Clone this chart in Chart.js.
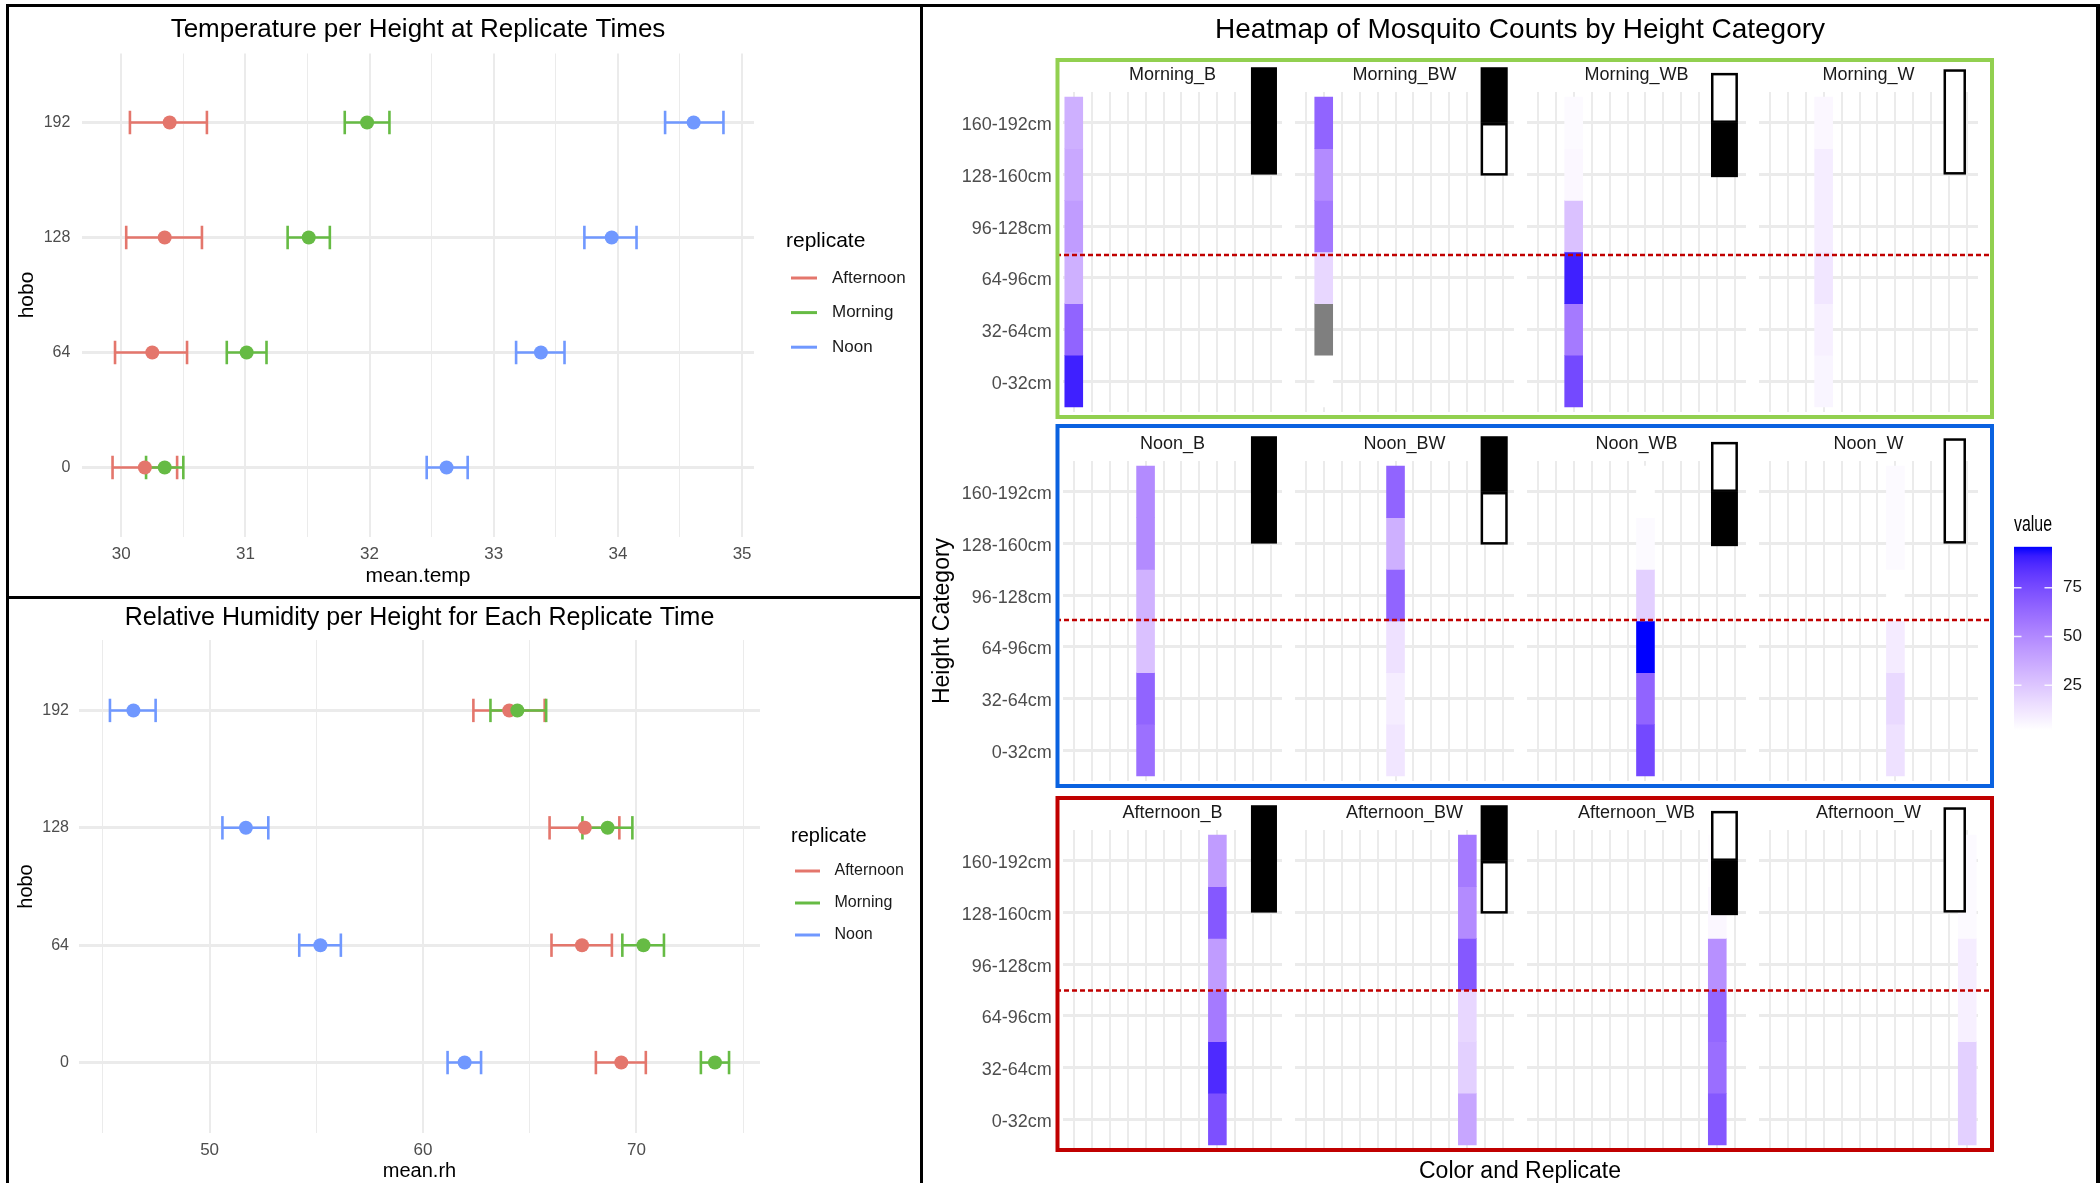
<!DOCTYPE html>
<html>
<head>
<meta charset="utf-8">
<title>Mosquito counts, temperature and humidity by height</title>
<script src="https://cdn.jsdelivr.net/npm/chart.js@4.4.1/dist/chart.umd.min.js"></script>
<style>
  html, body { margin: 0; padding: 0; background: #fff; }
  #page { position: relative; width: 2100px; height: 1183px; overflow: hidden; background: #fff; }
  #page canvas { position: absolute; }
  .rule { position: absolute; background: #000; z-index: 10; }
</style>
</head>
<body>
<div id="page">
  <div class="rule" style="left:6px;top:4px;width:2094px;height:3px"></div>
  <div class="rule" style="left:6px;top:4px;width:3px;height:1179px"></div>
  <div class="rule" style="left:920px;top:4px;width:3px;height:1179px"></div>
  <div class="rule" style="left:6px;top:596px;width:916px;height:3px"></div>
  <div class="rule" style="left:2096px;top:4px;width:4px;height:1179px"></div>
</div>
<script>
// ---------- data ----------
const hoboLevels = ['0', '64', '128', '192'];
const replicates = ['Afternoon', 'Morning', 'Noon'];
const replicateColors = ['#E4766C', '#66BB44', '#7098FF'];

// mean temperature with error bar ends, per hobo height (0, 64, 128, 192)
const tempMeanAfternoon = [30.19, 30.25, 30.35, 30.39];
const tempLowAfternoon = [29.93, 29.95, 30.04, 30.07];
const tempHighAfternoon = [30.45, 30.53, 30.65, 30.69];
const tempMeanMorning = [30.35, 31.01, 31.51, 31.98];
const tempLowMorning = [30.20, 30.85, 31.34, 31.80];
const tempHighMorning = [30.50, 31.17, 31.68, 32.16];
const tempMeanNoon = [32.62, 33.38, 33.95, 34.61];
const tempLowNoon = [32.46, 33.18, 33.73, 34.38];
const tempHighNoon = [32.79, 33.57, 34.15, 34.85];

// mean relative humidity with error bar ends
const rhMeanAfternoon = [69.29, 67.45, 67.58, 64.04];
const rhLowAfternoon = [68.10, 66.02, 65.93, 62.36];
const rhHighAfternoon = [70.44, 68.85, 69.20, 65.70];
const rhMeanMorning = [73.68, 70.33, 68.65, 64.42];
const rhLowMorning = [73.02, 69.34, 67.47, 63.16];
const rhHighMorning = [74.34, 71.29, 69.81, 65.77];
const rhMeanNoon = [61.95, 55.19, 51.70, 46.43];
const rhLowNoon = [61.15, 54.20, 50.60, 45.33];
const rhHighNoon = [62.72, 56.15, 52.75, 47.47];

// heatmap
const heightCats = ['0-32cm', '32-64cm', '64-96cm', '96-128cm', '128-160cm', '160-192cm'];
const colorReplicates = ['Morning_B', 'Morning_BW', 'Morning_WB', 'Morning_W',
  'Noon_B', 'Noon_BW', 'Noon_WB', 'Noon_W',
  'Afternoon_B', 'Afternoon_BW', 'Afternoon_WB', 'Afternoon_W'];
const trapTypes = ['B', 'BW', 'WB', 'W'];
// counts per height category, 0-32cm first; null = missing
const morningCounts = [
  [90, 65, 34, 42, 37, 34],
  [2, null, 18, 57, 49, 65],
  [76, 56, 90, 27, 5, 4],
  [6, 8, 12, 9, 9, 5]
];
const noonCounts = [
  [60, 65, 27, 33, 49, 49],
  [12, 9, 14, 65, 34, 65],
  [76, 65, 96, 21, 4, 2],
  [14, 17, 10, 2, 4, 4]
];
const afternoonCounts = [
  [73, 87, 56, 42, 70, 42],
  [38, 21, 18, 70, 49, 56],
  [70, 61, 64, 47, 5, 3],
  [21, 21, 8, 9, 4, 4]
];
const valueTicks = [25, 50, 75];

// ---------- setup ----------
const FONT = '"Liberation Sans", Arial, Helvetica, sans-serif';
Chart.defaults.font.family = FONT;
Chart.defaults.animation = false;
Chart.defaults.events = [];
Chart.defaults.responsive = false;
Chart.defaults.maintainAspectRatio = false;
Chart.defaults.plugins.legend.display = false;
Chart.defaults.plugins.tooltip.enabled = false;

const page = document.getElementById('page');
function addCanvas(left, top, width, height, z) {
    const c = document.createElement('canvas');
    c.width = width;
    c.height = height;
    c.style.left = left + 'px';
    c.style.top = top + 'px';
    c.style.width = width + 'px';
    c.style.height = height + 'px';
    c.style.zIndex = z;
    page.appendChild(c);
    return c;
}

// scale callback: fixed size, no extra label padding
function fixSize(prop, size) {
    return s => {
        s[prop] = size;
        s.paddingTop = 0;
        s.paddingBottom = 0;
        s.paddingLeft = 0;
        s.paddingRight = 0;
    };
}

// white -> blue gradient in Lab space (like ggplot's scale_fill_gradient)
const WHITE_REF = [0.95047, 1, 1.08883];
function toLinear(c) {
    c /= 255;
    return c <= 0.04045 ? c / 12.92 : Math.pow((c + 0.055) / 1.055, 2.4);
}
function fromLinear(c) {
    c = c <= 0.0031308 ? 12.92 * c : 1.055 * Math.pow(c, 1 / 2.4) - 0.055;
    return Math.round(255 * Math.min(1, Math.max(0, c)));
}
function rgbToLab(rgb) {
    const [r, g, b] = rgb.map(toLinear);
    const xyz = [
        0.4124 * r + 0.3576 * g + 0.1805 * b,
        0.2126 * r + 0.7152 * g + 0.0722 * b,
        0.0193 * r + 0.1192 * g + 0.9505 * b
    ].map((v, i) => v / WHITE_REF[i]);
    const f = xyz.map(v => (v > 0.008856 ? Math.cbrt(v) : 7.787 * v + 16 / 116));
    return [116 * f[1] - 16, 500 * (f[0] - f[1]), 200 * (f[1] - f[2])];
}
function labToRgb(lab) {
    const fy = (lab[0] + 16) / 116;
    const fx = fy + lab[1] / 500;
    const fz = fy - lab[2] / 200;
    const [x, y, z] = [fx, fy, fz].map((f, i) => (f ** 3 > 0.008856 ? f ** 3 : (f - 16 / 116) / 7.787) * WHITE_REF[i]);
    return [
        3.2406 * x - 1.5372 * y - 0.4986 * z,
        -0.9689 * x + 1.8758 * y + 0.0415 * z,
        0.0557 * x - 0.2040 * y + 1.0570 * z
    ].map(fromLinear);
}
const LAB_LOW = rgbToLab([255, 255, 255]);
const LAB_HIGH = rgbToLab([0, 0, 255]);
const allCounts = [...morningCounts, ...noonCounts, ...afternoonCounts].flat().filter(v => v !== null);
const vMin = Math.min(...allCounts);
const vMax = Math.max(...allCounts);
function fillFor(v) {
    if (v === null) return '#7F7F7F';
    const t = (v - vMin) / (vMax - vMin);
    const [r, g, b] = labToRgb(LAB_LOW.map((c, i) => c + (LAB_HIGH[i] - c) * t));
    return `rgb(${r},${g},${b})`;
}

// ---------- dot + error bar charts ----------
const replicateLegend = {
    id: 'replicateLegend',
    afterDraw(chart, args, o) {
        const {ctx, chartArea: a} = chart;
        const x = a.right + o.dx;
        const cy = (a.top + a.bottom) / 2;
        ctx.save();
        ctx.textAlign = 'left';
        ctx.textBaseline = 'middle';
        ctx.fillStyle = '#000';
        ctx.font = `${o.titleSize}px ${FONT}`;
        ctx.fillText('replicate', x, cy + o.titleDy);
        ctx.font = `${o.labelSize}px ${FONT}`;
        replicates.forEach((rep, i) => {
            const y = cy + o.firstDy + i * o.step;
            ctx.strokeStyle = replicateColors[i];
            ctx.lineWidth = 3;
            ctx.beginPath();
            ctx.moveTo(x + o.key[0], y);
            ctx.lineTo(x + o.key[1], y);
            ctx.stroke();
            ctx.fillStyle = '#1A1A1A';
            ctx.fillText(rep, x + o.labelDx, y);
        });
        ctx.restore();
    }
};

function errorBarChart(canvas, cfg) {
    const datasets = [];
    replicates.forEach((rep, s) => {
        cfg.low[s].forEach((lo, h) => {
            datasets.push({
                data: [{x: lo, y: h}, {x: cfg.high[s][h], y: h}],
                showLine: true,
                borderColor: replicateColors[s],
                borderWidth: 2.6,
                pointStyle: 'line',
                pointRotation: 90,
                pointRadius: 11.7,
                pointBorderWidth: 2.6,
                pointBorderColor: replicateColors[s],
                order: 10 - s
            });
        });
    });
    replicates.forEach((rep, s) => {
        datasets.push({
            label: rep,
            data: cfg.mean[s].map((m, h) => ({x: m, y: h})),
            pointRadius: 7,
            pointBackgroundColor: replicateColors[s],
            pointBorderWidth: 0,
            order: 3 - s
        });
    });

    const lo = Math.min(...cfg.low.flat());
    const hi = Math.max(...cfg.high.flat());
    const pad = (hi - lo) * 0.05;
    const isMajor = v => Math.abs(v / cfg.majorStep - Math.round(v / cfg.majorStep)) < 1e-6;

    return new Chart(canvas, {
        type: 'scatter',
        data: {datasets},
        options: {
            layout: {padding: {right: cfg.padRight, bottom: 0}, autoPadding: false},
            plugins: {
                title: {
                    display: true, text: cfg.title, color: '#000', fullSize: false,
                    font: {size: cfg.titleSize, weight: 'normal'},
                    padding: {top: cfg.titlePad[0], bottom: cfg.titlePad[1]}
                },
                replicateLegend: cfg.legend
            },
            scales: {
                x: {
                    type: 'linear', min: lo - pad, max: hi + pad,
                    afterBuildTicks: s => {
                        const t = [];
                        for (let v = Math.ceil(s.min / cfg.minorStep) * cfg.minorStep; v <= s.max + 1e-9; v += cfg.minorStep) {
                            t.push({value: +v.toFixed(3)});
                        }
                        s.ticks = t;
                    },
                    ticks: {
                        autoSkip: false, maxRotation: 0, padding: cfg.xTickPad, color: '#4D4D4D',
                        font: {size: 17}, callback: v => (isMajor(v) ? v : '')
                    },
                    grid: {color: '#EBEBEB', drawTicks: false, lineWidth: c => (isMajor(c.tick.value) ? 2 : 1)},
                    border: {display: false},
                    title: {
                        display: true, text: cfg.xTitle, color: '#000', font: {size: cfg.axisTitleSize},
                        padding: {top: 0, bottom: cfg.xTitlePad}
                    },
                    afterFit: fixSize('height', cfg.xAxisHeight)
                },
                y: {
                    type: 'linear', min: -0.6, max: hoboLevels.length - 0.4,
                    afterBuildTicks: s => { s.ticks = hoboLevels.map((_, i) => ({value: i})); },
                    ticks: {padding: cfg.yTickPad, color: '#4D4D4D', font: {size: 16}, callback: v => hoboLevels[v]},
                    grid: {color: '#EBEBEB', lineWidth: 3, drawTicks: false},
                    border: {display: false},
                    title: {
                        display: true, text: 'hobo', color: '#000', font: {size: cfg.axisTitleSize},
                        padding: {top: cfg.yTitlePad, bottom: 0}
                    },
                    afterFit: fixSize('width', cfg.yAxisWidth)
                }
            }
        },
        plugins: [replicateLegend]
    });
}

errorBarChart(addCanvas(7, 5, 914, 592, 1), {
    title: 'Temperature per Height at Replicate Times',
    xTitle: 'mean.temp',
    mean: [tempMeanAfternoon, tempMeanMorning, tempMeanNoon],
    low: [tempLowAfternoon, tempLowMorning, tempLowNoon],
    high: [tempHighAfternoon, tempHighMorning, tempHighNoon],
    minorStep: 0.5, majorStep: 1,
    titleSize: 26, titlePad: [8.9, 8.4], axisTitleSize: 21,
    padRight: 167, yAxisWidth: 75, xAxisHeight: 60.5,
    xTickPad: 7.4, xTitlePad: 8.4, yTickPad: 11.6, yTitlePad: 7.4,
    legend: {dx: 32, titleDy: -54, firstDy: -17, step: 34.6, titleSize: 21, labelSize: 17, key: [5, 31], labelDx: 46}
});

errorBarChart(addCanvas(7, 597, 914, 586, 1), {
    title: 'Relative Humidity per Height for Each Replicate Time',
    xTitle: 'mean.rh',
    mean: [rhMeanAfternoon, rhMeanMorning, rhMeanNoon],
    low: [rhLowAfternoon, rhLowMorning, rhLowNoon],
    high: [rhHighAfternoon, rhHighMorning, rhHighNoon],
    minorStep: 5, majorStep: 10,
    titleSize: 25, titlePad: [6, 7], axisTitleSize: 20,
    padRight: 161, yAxisWidth: 72, xAxisHeight: 50,
    xTickPad: 6.8, xTitlePad: 0, yTickPad: 10, yTitlePad: 7,
    legend: {dx: 31, titleDy: -50.5, firstDy: -15.5, step: 32, titleSize: 20, labelSize: 16, key: [4, 29], labelDx: 43.5}
});

// ---------- heatmap ----------
// frame: overall title and x title
new Chart(addCanvas(921, 5, 1176, 1180, 0), {
    type: 'scatter',
    data: {datasets: []},
    options: {
        layout: {padding: {left: 22}, autoPadding: false},
        plugins: {
            title: {
                display: true, text: 'Heatmap of Mosquito Counts by Height Category', color: '#000',
                font: {size: 28, weight: 'normal'}, padding: {top: 8.2, bottom: 0}
            }
        },
        scales: {
            x: {
                min: 0, max: 1,
                ticks: {display: false},
                grid: {display: false, drawTicks: false},
                border: {display: false},
                title: {display: true, text: 'Color and Replicate', color: '#000', font: {size: 23}, padding: {top: 0, bottom: 0}}
            },
            y: {display: false}
        }
    }
});

const heatRows = [
    {counts: morningCounts, offset: 0, boxColor: '#92D050', panelTop: 92, boxTop: 32, boxBottom: 5, cutLine: 3.44},
    {counts: noonCounts, offset: 4, boxColor: '#0A62E0', panelTop: 461, boxTop: 35, boxBottom: 5, cutLine: 3.52},
    {counts: afternoonCounts, offset: 8, boxColor: '#C00000', panelTop: 830, boxTop: 32, boxBottom: 0, cutLine: 3.49}
];
const facetLeft = [1063, 1295, 1527, 1759];
const facetEdges = [925, 1289, 1521, 1753, 2000];
const facetWidth = 219;
const stripHeight = 38;
const panelHeight = 320;

// trap colour icons, in facet axis units
const iconLeft = [10.87, 10.74, 10.65, 10.68];
const iconRight = [12.32, 12.25, 12.15, 11.93];
const iconTop = [7.08, 7.08, 6.97, 7.04];
const iconBottom = [5.0, 4.98, 4.95, 5.0];
const iconSplit = 6.0;

const facetDecor = {
    id: 'facetDecor',
    afterDraw(chart, args, o) {
        const {ctx, chartArea: a, scales: {x, y}} = chart;
        const W = chart.width;
        const boxL = o.first ? a.left - 5.5 : 0;
        const boxR = o.last ? a.right + 14 : W;
        const top = a.top - o.boxTop;
        const bottom = a.bottom + o.boxBottom;
        ctx.save();

        // trap icons
        const x0 = x.getPixelForValue(iconLeft[o.trap]);
        const x1 = x.getPixelForValue(iconRight[o.trap]);
        const yt = y.getPixelForValue(iconTop[o.trap]);
        const yb = y.getPixelForValue(iconBottom[o.trap]);
        const ys = y.getPixelForValue(iconSplit);
        const black = (t, b) => { ctx.fillStyle = '#000'; ctx.fillRect(x0, t, x1 - x0, b - t); };
        const white = (t, b) => {
            ctx.fillStyle = '#fff';
            ctx.fillRect(x0, t, x1 - x0, b - t);
            ctx.strokeStyle = '#000';
            ctx.lineWidth = 2.5;
            ctx.strokeRect(x0 + 1.25, t + 1.25, x1 - x0 - 2.5, b - t - 2.5);
        };
        const type = trapTypes[o.trap];
        if (type === 'B') black(yt, yb);
        if (type === 'BW') { black(yt, ys); white(ys, yb); }
        if (type === 'WB') { white(yt, ys); black(ys, yb); }
        if (type === 'W') white(yt, yb);

        // dashed reference line near 96 cm
        const dy = y.getPixelForValue(o.cutLine);
        ctx.strokeStyle = '#C00000';
        ctx.lineWidth = 2.5;
        ctx.setLineDash([5, 3]);
        ctx.lineDashOffset = (o.canvasLeft + boxL) % 8;
        ctx.beginPath();
        ctx.moveTo(boxL, dy);
        ctx.lineTo(boxR, dy);
        ctx.stroke();
        ctx.setLineDash([]);

        // coloured frame around the row
        ctx.strokeStyle = o.boxColor;
        ctx.lineWidth = 4;
        ctx.beginPath();
        ctx.moveTo(o.first ? boxL - 2 : 0, top);
        ctx.lineTo(o.last ? boxR + 2 : W, top);
        ctx.moveTo(o.first ? boxL - 2 : 0, bottom);
        ctx.lineTo(o.last ? boxR + 2 : W, bottom);
        if (o.first) { ctx.moveTo(boxL, top); ctx.lineTo(boxL, bottom); }
        if (o.last) { ctx.moveTo(boxR, top); ctx.lineTo(boxR, bottom); }
        ctx.stroke();
        ctx.restore();
    }
};

heatRows.forEach((row, r) => {
    row.counts.forEach((counts, k) => {
        const xIndex = row.offset + k;
        const left = facetEdges[k];
        const width = facetEdges[k + 1] - left;
        const yWidth = k === 0 ? facetLeft[0] - left : 0;
        const canvas = addCanvas(left, row.panelTop - stripHeight, width, stripHeight + panelHeight + 10, 1);
        new Chart(canvas, {
            type: 'bar',
            data: {
                datasets: [{
                    data: heightCats.map((h, i) => ({x: xIndex + 1, y: [i + 0.5, i + 1.5]})),
                    backgroundColor: counts.map(fillFor),
                    borderWidth: 0,
                    barPercentage: 1,
                    categoryPercentage: 1
                }]
            },
            options: {
                layout: {
                    padding: {
                        left: facetLeft[k] - left - yWidth,
                        right: facetEdges[k + 1] - (facetLeft[k] + facetWidth),
                        top: 0,
                        bottom: 10
                    },
                    autoPadding: false
                },
                plugins: {
                    facetDecor: {
                        trap: k, first: k === 0, last: k === 3, canvasLeft: left, cutLine: row.cutLine,
                        boxColor: row.boxColor, boxTop: row.boxTop, boxBottom: row.boxBottom
                    }
                },
                scales: {
                    x: {
                        type: 'linear', position: 'top', min: 0.4, max: colorReplicates.length + 0.6, offset: false,
                        afterBuildTicks: s => { s.ticks = colorReplicates.map((_, i) => ({value: i + 1})); },
                        ticks: {display: false},
                        grid: {color: '#EBEBEB', lineWidth: 2, drawTicks: false, offset: false},
                        border: {display: false},
                        title: {
                            display: true, text: colorReplicates[xIndex], color: '#1A1A1A',
                            font: {size: 18}, padding: {top: 10.7, bottom: 0}
                        },
                        afterFit: fixSize('height', stripHeight)
                    },
                    y: {
                        type: 'linear', min: 0.4, max: heightCats.length + 0.6, beginAtZero: false,
                        afterBuildTicks: s => { s.ticks = heightCats.map((_, i) => ({value: i + 1})); },
                        ticks: {
                            display: k === 0, padding: 11.3, labelOffset: 2.5, color: '#4D4D4D',
                            font: {size: 18}, callback: v => heightCats[v - 1]
                        },
                        grid: {color: '#EBEBEB', lineWidth: 3, drawTicks: false},
                        border: {display: false},
                        title: {
                            display: k === 0 && r === 1, text: 'Height Category', color: '#000',
                            font: {size: 23}, padding: {top: 3.8, bottom: 0}
                        },
                        afterFit: fixSize('width', yWidth)
                    }
                }
            },
            plugins: [facetDecor]
        });
    });
});

// colour bar legend
const colorbarTicks = {
    id: 'colorbarTicks',
    afterDatasetsDraw(chart) {
        const {ctx, chartArea: a, scales: {y}} = chart;
        ctx.save();
        ctx.strokeStyle = 'rgba(255,255,255,0.85)';
        ctx.lineWidth = 1.5;
        valueTicks.forEach(v => {
            const py = y.getPixelForValue(v);
            ctx.beginPath();
            ctx.moveTo(a.left, py);
            ctx.lineTo(a.left + 7.5, py);
            ctx.moveTo(a.right - 7.5, py);
            ctx.lineTo(a.right, py);
            ctx.stroke();
        });
        ctx.restore();
    }
};

new Chart(addCanvas(2005, 505, 92, 240, 2), {
    type: 'bar',
    data: {
        labels: [''],
        datasets: [{
            data: [[vMin, vMax]],
            backgroundColor: c => {
                const a = c.chart.chartArea;
                if (!a) return fillFor(vMax);
                const g = c.chart.ctx.createLinearGradient(0, a.bottom, 0, a.top);
                for (let i = 0; i <= 20; i++) g.addColorStop(i / 20, fillFor(vMin + (vMax - vMin) * i / 20));
                return g;
            },
            borderWidth: 0,
            barPercentage: 1,
            categoryPercentage: 1
        }]
    },
    options: {
        layout: {padding: {left: 9, bottom: 15}, autoPadding: false},
        plugins: {
            title: {
                display: true, text: 'value', align: 'start', fullSize: false, color: '#000',
                font: {size: 22, weight: 'normal'}, padding: {top: 6.8, bottom: 8.5}
            }
        },
        scales: {
            x: {display: false},
            y: {
                position: 'right', min: vMin, max: vMax, beginAtZero: false,
                afterBuildTicks: s => { s.ticks = valueTicks.map(v => ({value: v})); },
                ticks: {padding: 11, color: '#1A1A1A', font: {size: 17}},
                grid: {display: false, drawTicks: false},
                border: {display: false},
                afterFit: fixSize('width', 45)
            }
        }
    },
    plugins: [colorbarTicks]
});
</script>
</body>
</html>
